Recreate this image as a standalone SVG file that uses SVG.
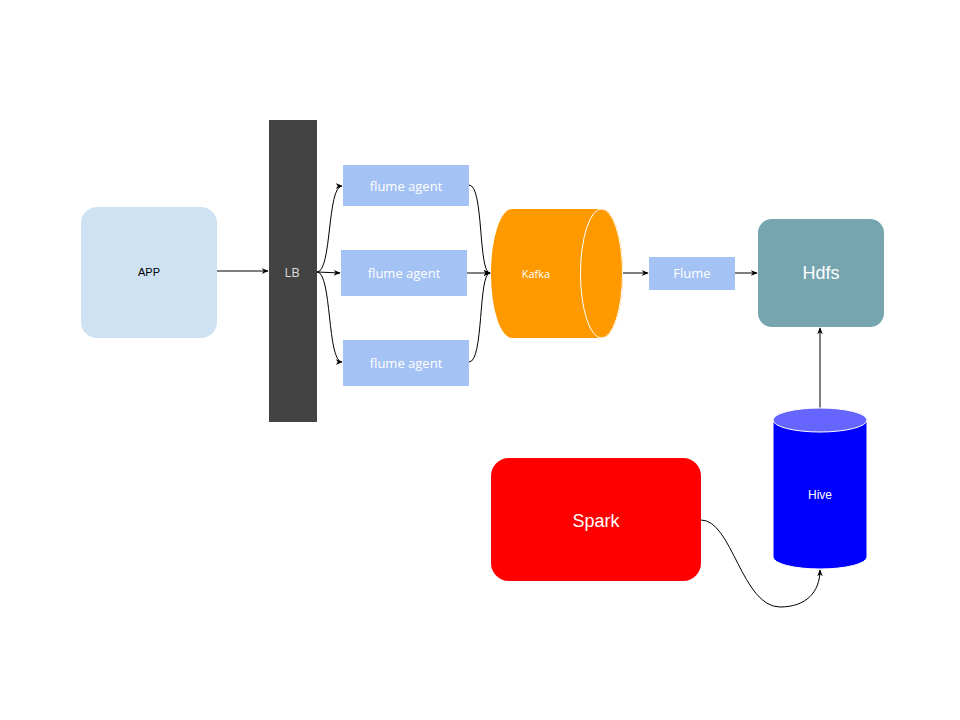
<svg xmlns="http://www.w3.org/2000/svg" width="960" height="720" viewBox="0 0 960 720">
<style>
  .lbl { font-family: "Open Sans", "Noto Sans", sans-serif; text-anchor: middle; dominant-baseline: central; }
  .ar { font-family: "Liberation Sans", Arial, sans-serif; text-anchor: middle; dominant-baseline: central; }
  .fa { fill: #a4c2f4; }
  .edge { fill: none; stroke: #000; stroke-width: 1; marker-end: url(#arr); }
</style>
<defs>
  <marker id="arr" viewBox="0 0 10 10" refX="9" refY="5" markerWidth="7" markerHeight="7" markerUnits="userSpaceOnUse" orient="auto">
    <path d="M0,1 L10,5 L0,9 L3,5 Z" fill="#000"/>
  </marker>
</defs>
<rect width="960" height="720" fill="#fff"/>
<g id="connectors">
  <path class="edge" d="M217,271 L268,271"/>
  <path class="edge" d="M317,272 C332,272 327,186 342,186"/>
  <path class="edge" d="M317,272 L340,273"/>
  <path class="edge" d="M317,272 C332,272 327,362 342,362"/>
  <path class="edge" d="M469,185 C484,185 478,273 490,273"/>
  <path class="edge" d="M467,273 L490,273"/>
  <path class="edge" d="M469,362 C484,362 478,273 490,273"/>
  <path class="edge" d="M623,273 L648,273"/>
  <path class="edge" d="M735,273 L757,273"/>
  <path class="edge" d="M820,408 L820,328"/>
  <path class="edge" d="M701,520 C732,520 742,607 780,607 C806,607 820,592 820,570"/>
</g>
<g id="app">
  <rect x="81" y="207" width="136" height="131" rx="16" fill="#cfe2f3"/>
  <text class="ar" x="149" y="272" font-size="11" fill="#000">APP</text>
</g>
<g id="lb">
  <rect x="269" y="120" width="48" height="302" fill="#434343"/>
  <text class="lbl" x="292" y="272" font-size="13" fill="#d9d9d9">LB</text>
</g>
<g id="flume1">
  <rect class="fa" x="343" y="165" width="126" height="41"/>
  <text class="lbl" x="406" y="186" font-size="13" fill="#fff">flume agent</text>
</g>
<g id="flume2">
  <rect class="fa" x="341" y="250" width="126" height="46"/>
  <text class="lbl" x="404" y="273" font-size="13" fill="#fff">flume agent</text>
</g>
<g id="flume3">
  <rect class="fa" x="343" y="340" width="126" height="46"/>
  <text class="lbl" x="406" y="363" font-size="13" fill="#fff">flume agent</text>
</g>
<g id="kafka">
  <path d="M512,209 L602,209 A21,64.5 0 0 1 602,338 L512,338 A21,64.5 0 0 1 512,209 Z" fill="#ff9900"/>
  <ellipse cx="601.5" cy="273.5" rx="21" ry="64.5" fill="#ff9900" stroke="#fff" stroke-width="1"/>
  <text class="lbl" x="536" y="273" font-size="11" fill="#fff">Kafka</text>
</g>
<g id="flume">
  <rect class="fa" x="649" y="257" width="86" height="33"/>
  <text class="lbl" x="692" y="273" font-size="13" fill="#fff">Flume</text>
</g>
<g id="hdfs">
  <rect x="758" y="219" width="126" height="108" rx="14" fill="#76a5af"/>
  <text class="ar" x="821" y="273" font-size="18" fill="#fff">Hdfs</text>
</g>
<g id="hive">
  <path d="M773,420 L773,557 A47,12 0 0 0 867,557 L867,420 Z" fill="#0000ff" stroke="#fff" stroke-width="1"/>
  <ellipse cx="820" cy="420" rx="47" ry="12" fill="#6666ff" stroke="#fff" stroke-width="1"/>
  <text class="ar" x="820" y="495" font-size="12" fill="#fff">Hive</text>
</g>
<g id="spark">
  <rect x="491" y="458" width="210" height="123" rx="18" fill="#ff0000"/>
  <text class="ar" x="596" y="521" font-size="18" fill="#fff">Spark</text>
</g>
</svg>
